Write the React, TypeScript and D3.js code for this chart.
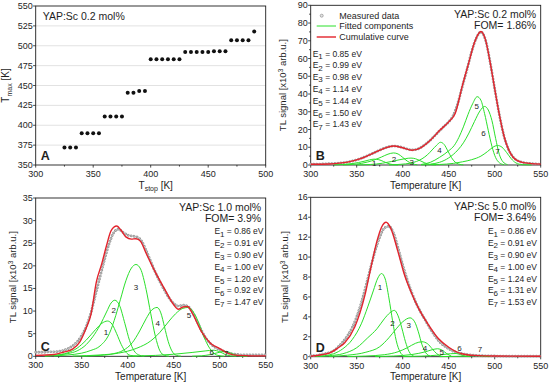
import React from 'react';
import * as d3 from 'd3';

const FONT = "'Liberation Sans', Arial, Helvetica, sans-serif";
const GREEN = '#2ae02a';
const RED = '#e3232c';
const INK = '#1e1e1e';

// panel A: Tmax vs Tstop
const aTstop = [325, 330, 335, 340, 345, 350, 355, 360, 365, 370, 375, 380, 385, 390, 395,
  400, 405, 410, 415, 420, 425, 430, 435, 440, 445, 450, 455, 460, 465, 470, 475, 480, 485, 490];
const aTmax = [372, 372, 372, 390, 390, 390, 390, 411, 411, 411, 411, 441, 441, 443, 443,
  483, 483, 483, 483, 483, 483, 492, 492, 492, 492, 492, 493, 493, 493, 507, 507, 507, 507, 518];

// measured glow curves, every 5 K
const measuredT = [300, 305, 310, 315, 320, 325, 330, 335, 340, 345, 350, 355, 360, 365, 370, 375, 380,
  385, 390, 395, 400, 405, 410, 415, 420, 425, 430, 435, 440, 445, 450, 455, 460, 465, 470, 475, 480,
  485, 490, 495, 500, 505, 510, 515, 520, 525, 530, 535, 540, 545, 550];
const bMeasured = [0.5, 0.5, 0.5, 0.6, 0.7, 0.8, 1.0, 1.3, 1.7, 2.2, 2.9, 3.8, 4.9, 6.0, 7.2, 8.4, 9.5,
  10.3, 10.7, 10.5, 9.8, 9.0, 8.5, 8.8, 10.0, 11.8, 14.0, 16.6, 19.3, 21.8, 24.3, 28.0, 35.0, 44.5, 54.0,
  64.0, 71.5, 75.0, 70.5, 58.0, 43.0, 28.5, 16.5, 8.8, 4.5, 2.4, 1.5, 1.0, 0.8, 0.6, 0.5];
const cMeasured = [0.9, 0.9, 0.9, 1.0, 1.0, 1.1, 1.3, 1.7, 2.3, 3.2, 4.6, 6.6, 9.6, 13.6, 17.6, 21.5, 25.0,
  27.4, 28.1, 27.4, 26.8, 26.6, 26.4, 25.5, 23.4, 21.0, 18.6, 16.5, 14.6, 12.9, 11.7, 11.1, 11.3, 11.1, 9.9,
  7.9, 5.8, 4.0, 2.8, 2.0, 1.5, 1.1, 0.7, 0.5, 0.4, 0.3, 0.3, 0.3, 0.3, 0.3, 0.3];
const dMeasured = [0.1, 0.1, 0.2, 0.3, 0.4, 0.6, 1.0, 1.5, 2.1, 2.9, 4.0, 5.4, 7.1, 8.9, 10.6, 12.0, 12.9,
  13.1, 12.4, 10.9, 9.2, 7.7, 6.4, 5.3, 4.4, 3.6, 2.8, 2.1, 1.5, 1.1, 0.8, 0.55, 0.4, 0.3, 0.22, 0.17, 0.13,
  0.1, 0.09, 0.08, 0.07, 0.06, 0.06, 0.05, 0.05, 0.05, 0.05, 0.05, 0.05, 0.05, 0.05];

// cumulative curves [T, signal]
const bCumulative = [[300, 0.4], [320, 0.6], [340, 1.6], [355, 3.7], [370, 7.1], [380, 9.4], [390, 10.7],
  [400, 9.7], [410, 8.3], [420, 9.8], [430, 13.9], [440, 19.4], [450, 24.3], [457, 29], [465, 45], [472, 58],
  [478, 69], [485, 75.2], [490, 70.5], [495, 58], [500, 43], [505, 28.5], [510, 16.5], [515, 8.8], [520, 4.4],
  [530, 1.5], [540, 0.8], [550, 0.5]];
const cCumulative = [[300, 0.2], [320, 0.4], [330, 0.9], [340, 1.6], [348, 3.2], [355, 6.3], [360, 9.2],
  [366, 16.5], [372, 20.6], [377, 24.5], [382, 27.8], [388, 28.8], [393, 27.8], [398, 26.4], [404, 25.9],
  [409, 26.0], [414, 25.4], [420, 22.8], [430, 18.6], [440, 14.9], [450, 11.4], [455, 10.4], [460, 10.9],
  [465, 11.0], [470, 9.6], [480, 5.5], [490, 2.9], [500, 1.7], [510, 0.6], [520, 0.2], [535, 0.1], [550, 0.1]];
const dCumulative = [[300, 0.05], [312, 0.2], [320, 0.35], [330, 0.9], [337, 1.4], [348, 3.0], [359, 6.2],
  [366, 9.2], [372, 11.6], [377, 13.0], [382, 13.5], [387, 12.9], [395, 10.5], [402, 8.2], [410, 6.3],
  [417, 4.9], [428, 3.2], [439, 1.8], [450, 0.95], [464, 0.3], [478, 0.13], [500, 0.07], [550, 0.05]];

// fitted components
const bComponents = [
  [[325, 0.05], [335, 0.3], [345, 0.8], [352, 1.4], [358, 2.1], [364, 2.9], [369, 3.3], [374, 3.0], [379, 2.0], [384, 0.9], [389, 0.25], [395, 0.02]],
  [[335, 0.05], [345, 0.3], [355, 0.9], [362, 1.7], [370, 3.0], [377, 4.5], [384, 6.1], [390, 6.8], [395, 6.2], [400, 4.3], [405, 2.2], [410, 0.8], [416, 0.1]],
  [[350, 0.05], [365, 0.3], [378, 1.0], [388, 2.0], [396, 2.9], [403, 3.6], [409, 3.9], [414, 3.5], [419, 2.4], [424, 1.2], [430, 0.3], [436, 0.03]],
  [[385, 0.05], [398, 0.4], [408, 1.0], [415, 2.0], [421, 3.5], [427, 5.8], [432, 8.5], [437, 11.2], [441, 12.8], [445, 11.6], [449, 8.0], [453, 4.2], [457, 1.6], [461, 0.5], [466, 0.05]],
  [[420, 0.3], [430, 1.5], [440, 4.3], [450, 8.0], [456, 11], [461, 15.5], [466, 21.5], [471, 28.5], [476, 34.5], [481, 38.5], [485, 36.5], [489, 29], [493, 19.5], [497, 10.5], [501, 4.2], [505, 1.3], [510, 0.2]],
  [[430, 0.5], [440, 1.5], [450, 4.0], [460, 8.5], [466, 12.5], [472, 18], [478, 24.5], [484, 30.5], [489, 33], [493, 31], [497, 25], [501, 15], [505, 6], [509, 1.8], [514, 0.2]],
  [[420, 0.1], [440, 0.3], [455, 0.9], [465, 1.8], [475, 3], [485, 5], [492, 7.5], [498, 10], [503, 11], [508, 10], [513, 7], [518, 3.5], [523, 1.2], [530, 0.2], [540, 0.02]],
];
const cComponents = [
  [[310, 0.05], [320, 0.2], [335, 0.8], [345, 1.8], [355, 3.6], [365, 5.9], [372, 7.3], [378, 7.8], [383, 7.1], [388, 5.0], [393, 2.6], [398, 0.9], [403, 0.2], [410, 0.02]],
  [[310, 0.05], [320, 0.2], [335, 0.6], [345, 1.2], [355, 2.6], [362, 4.3], [370, 6.9], [377, 9.8], [382, 11.8], [386, 12.4], [391, 11.3], [397, 7.2], [402, 3.5], [407, 1.2], [412, 0.3], [418, 0.02]],
  [[320, 0.05], [335, 0.3], [350, 0.7], [360, 1.3], [370, 2.3], [380, 5.0], [387, 9.0], [392, 12.5], [398, 16.7], [404, 19.5], [409, 20.3], [414, 19.3], [420, 14.8], [425, 9.5], [430, 4.5], [435, 1.2], [440, 0.2], [445, 0.02]],
  [[350, 0.05], [370, 0.2], [385, 0.6], [395, 1.3], [405, 3.0], [413, 5.6], [420, 8.3], [426, 10.2], [432, 10.8], [436, 9.6], [440, 6.5], [444, 3.3], [448, 1.2], [453, 0.2], [458, 0.02]],
  [[340, 0.05], [370, 0.3], [390, 0.7], [410, 1.8], [425, 3.4], [435, 5.3], [445, 7.8], [452, 9.4], [460, 10.6], [466, 10.8], [471, 9.9], [477, 7.5], [482, 4.7], [487, 2.5], [492, 1.0], [498, 0.2], [505, 0.02]],
  [[400, 0.05], [430, 0.2], [450, 0.45], [470, 0.85], [485, 1.2], [493, 1.35], [500, 1.0], [506, 0.4], [512, 0.1], [518, 0.01]],
  [[470, 0.02], [480, 0.1], [490, 0.4], [498, 0.8], [505, 1.1], [511, 0.8], [517, 0.3], [523, 0.05], [530, 0.0]],
];
const dComponents = [
  [[305, 0.02], [315, 0.1], [325, 0.3], [335, 0.8], [345, 1.7], [355, 3.3], [362, 5.0], [368, 6.6], [373, 7.9], [377, 8.35], [381, 7.8], [385, 5.9], [389, 3.6], [393, 1.6], [397, 0.5], [402, 0.05]],
  [[310, 0.03], [320, 0.1], [335, 0.3], [350, 0.9], [362, 1.9], [372, 2.8], [380, 3.8], [386, 4.4], [391, 4.65], [395, 4.1], [399, 2.9], [403, 1.5], [407, 0.5], [412, 0.05]],
  [[320, 0.03], [340, 0.15], [360, 0.45], [375, 1.0], [385, 1.9], [393, 2.8], [400, 3.5], [408, 3.9], [413, 3.5], [417, 2.5], [421, 1.2], [425, 0.4], [430, 0.05]],
  [[340, 0.02], [360, 0.07], [380, 0.2], [395, 0.5], [405, 0.9], [414, 1.35], [421, 1.5], [427, 1.3], [432, 0.8], [437, 0.3], [442, 0.05]],
  [[370, 0.02], [390, 0.07], [410, 0.22], [425, 0.5], [432, 0.7], [438, 0.8], [443, 0.65], [448, 0.3], [453, 0.05]],
  [[400, 0.02], [420, 0.06], [440, 0.17], [452, 0.3], [458, 0.32], [463, 0.2], [468, 0.05], [473, 0.01]],
  [[440, 0.01], [460, 0.04], [470, 0.07], [480, 0.1], [488, 0.06], [495, 0.01]],
];

// where the component numbers sit [T, signal]
const bLabels = [[369, 0.9], [390.6, 3.2], [409.8, 1.5], [440, 8.5], [480.4, 33], [487.7, 18], [503, 8]];
const cLabels = [[376.4, 5.4], [384.8, 10.3], [409, 15.3], [432.6, 7.4], [466.7, 9.1], [491.3, 1.0], [507, 0.6]];
const dLabels = [[375.4, 7.0], [389, 3.4], [406.5, 3.2], [424.3, 0.87], [442.4, 0.5], [461.6, 0.87], [484, 0.8]];

const bEnergies = ['0.85', '0.99', '0.98', '1.14', '1.44', '1.50', '1.43'];
const cEnergies = ['0.86', '0.91', '0.90', '1.00', '1.20', '0.92', '1.47'];
const dEnergies = ['0.86', '0.91', '0.90', '1.00', '1.24', '1.31', '1.53'];

const tempTicks = [300, 350, 400, 450, 500, 550];
const tempMinor = [325, 375, 425, 475, 525];

function Axes({ x, y, box, xTicks, yTicks, xMinor, yMinor, grid }: any) {
  return (
    <g fontFamily={FONT} fontSize={9} fill={INK}>
      {grid && yTicks.slice(1, -1).map((v: number) => (
        <line key={'g' + v} x1={box.l} x2={box.r} y1={y(v)} y2={y(v)} stroke="#dadada" strokeWidth={0.8} />
      ))}
      {xMinor.map((v: number) => (
        <line key={'xm' + v} x1={x(v)} x2={x(v)} y1={box.b} y2={box.b + 1.6} stroke={INK} strokeWidth={0.8} />
      ))}
      {yMinor.map((v: number) => (
        <line key={'ym' + v} x1={box.l - 1.6} x2={box.l} y1={y(v)} y2={y(v)} stroke={INK} strokeWidth={0.8} />
      ))}
      {xTicks.map((v: number) => (
        <g key={'x' + v}>
          <line x1={x(v)} x2={x(v)} y1={box.b} y2={box.b + 2.6} stroke={INK} strokeWidth={0.8} />
          <text x={x(v)} y={box.b + 12} textAnchor="middle">{v}</text>
        </g>
      ))}
      {yTicks.map((v: number) => (
        <g key={'y' + v}>
          <line x1={box.l - 2.6} x2={box.l} y1={y(v)} y2={y(v)} stroke={INK} strokeWidth={0.8} />
          <text x={box.l - 3} y={y(v) + 3} textAnchor="end">{v}</text>
        </g>
      ))}
      <rect x={box.l} y={box.t} width={box.r - box.l} height={box.b - box.t} fill="none" stroke={INK} strokeWidth={0.9} />
    </g>
  );
}

function Energy({ x, y, i, e, anchor }: any) {
  return (
    <text x={x} y={y} fontFamily={FONT} fontSize={8.5} fill={INK} textAnchor={anchor}>
      E<tspan dy={2.2} fontSize={8}>{i + 1}</tspan><tspan dy={-2.2}>{` = ${e} eV`}</tspan>
    </text>
  );
}

function TLPanel({ box, yMax, yTicks, yMinor, measured, cumulative, components, labels, energies,
  sample, fom, letter, energyX, energyY, energyAnchor, yLabelX, legend }: any) {
  const x = d3.scaleLinear().domain([300, 550]).range([box.l, box.r]);
  const y = d3.scaleLinear().domain([0, yMax]).range([box.b, box.t]);
  const line = d3.line<any>().x(d => x(d[0])).y(d => y(d[1])).curve(d3.curveMonotoneX);
  const meas = measuredT.map((t, i) => [t, measured[i]]);
  const cx = (box.l + box.r) / 2;
  const cy = (box.t + box.b) / 2;
  return (
    <g>
      <Axes x={x} y={y} box={box} xTicks={tempTicks} yTicks={yTicks} xMinor={tempMinor} yMinor={yMinor} />
      <path d={line(meas) || ''} fill="none" stroke="#999" strokeWidth={2.8} strokeDasharray="0.01 3" strokeLinecap="round" />
      <path d={line(meas) || ''} fill="none" stroke="#e4e4e4" strokeWidth={1.0} strokeDasharray="0.01 3" strokeLinecap="round" />
      {components.map((c: any, i: number) => (
        <path key={i} d={line(c) || ''} fill="none" stroke={GREEN} strokeWidth={1} />
      ))}
      <path d={line(cumulative) || ''} fill="none" stroke={RED} strokeWidth={1.4} />
      <g fontFamily={FONT} fontSize={8} fill={INK} textAnchor="middle">
        {labels.map((p: number[], i: number) => (
          <text key={i} x={x(p[0])} y={y(p[1]) + 2.9}>{i + 1}</text>
        ))}
      </g>
      {energies.map((e: string, i: number) => (
        <Energy key={i} x={energyX} y={energyY + i * 11.8 + 3} i={i} e={e} anchor={energyAnchor} />
      ))}
      <g fontFamily={FONT} fontSize={10.5} fill={INK} textAnchor="end">
        <text x={box.r - 4.5} y={box.t + 12.8}>{sample}</text>
        <text x={box.r - 4.5} y={box.t + 23.5}>{fom}</text>
      </g>
      {legend && (
        <g fontFamily={FONT} fontSize={9} fill={INK}>
          <circle cx={box.l + 11} cy={box.t + 10.4} r={1.5} fill="#e4e4e4" stroke="#999" strokeWidth={0.8} />
          <text x={box.l + 28.6} y={box.t + 13.6}>Measured data</text>
          <line x1={box.l + 6} x2={box.l + 25.3} y1={box.t + 20.7} y2={box.t + 20.7} stroke={GREEN} strokeWidth={1} />
          <text x={box.l + 28.6} y={box.t + 24}>Fitted components</text>
          <line x1={box.l + 6} x2={box.l + 25.3} y1={box.t + 31.7} y2={box.t + 31.7} stroke={RED} strokeWidth={1.4} />
          <text x={box.l + 28.6} y={box.t + 35}>Cumulative curve</text>
        </g>
      )}
      <text x={box.l + 5} y={box.b - 5} fontFamily={FONT} fontSize={12.5} fontWeight="bold" fill={INK}>{letter}</text>
      <text x={cx} y={box.b + 23.5} fontFamily={FONT} fontSize={10} fill={INK} textAnchor="middle">Temperature [K]</text>
      <text transform={`translate(${yLabelX},${cy}) rotate(-90)`} fontFamily={FONT} fontSize={9.5} fill={INK} textAnchor="middle">
        TL signal [x10<tspan dy={-3.2} fontSize={6.5}>3</tspan><tspan dy={3.2}> arb.u.]</tspan>
      </text>
    </g>
  );
}

function PanelA() {
  const box = { l: 35.7, r: 265.7, t: 6, b: 165 };
  const x = d3.scaleLinear().domain([300, 500]).range([box.l, box.r]);
  const y = d3.scaleLinear().domain([350, 550]).range([box.b, box.t]);
  const yTicks = d3.range(350, 551, 25);
  return (
    <g>
      <Axes x={x} y={y} box={box} xTicks={[300, 350, 400, 450, 500]} yTicks={yTicks}
        xMinor={[325, 375, 425, 475]} yMinor={[]} grid />
      {aTstop.map((t, i) => (
        <circle key={i} cx={x(t)} cy={y(aTmax[i])} r={2} fill="#111" />
      ))}
      <text x={42.7} y={20.4} fontFamily={FONT} fontSize={10.5} fill={INK}>YAP:Sc 0.2 mol%</text>
      <text x={box.l + 5} y={box.b - 5} fontFamily={FONT} fontSize={12.5} fontWeight="bold" fill={INK}>A</text>
      <text x={155.7} y={188.5} fontFamily={FONT} fontSize={10} fill={INK} textAnchor="middle">
        T<tspan dy={2.5} fontSize={7}>stop</tspan><tspan dy={-2.5}> [K]</tspan>
      </text>
      <text transform={`translate(9,${(box.t + box.b) / 2}) rotate(-90)`} fontFamily={FONT} fontSize={10} fill={INK} textAnchor="middle">
        T<tspan dy={2.5} fontSize={7}>max</tspan><tspan dy={-2.5}> [K]</tspan>
      </text>
    </g>
  );
}

export default function App() {
  return (
    <div>
      <style>{'body{margin:0}'}</style>
      <svg width={550} height={384} style={{ display: 'block', background: '#fff' }}>
        <PanelA />
        <TLPanel box={{ l: 310.7, r: 540.7, t: 5.3, b: 165 }} yMax={90} yTicks={d3.range(0, 91, 10)}
          yMinor={d3.range(5, 90, 10)} measured={bMeasured} cumulative={bCumulative} components={bComponents}
          labels={bLabels} energies={bEnergies} sample="YAP:Sc 0.2 mol%" fom="FOM= 1.86%" letter="B"
          energyX={312.7} energyY={53.5} energyAnchor="start" yLabelX={286} legend />
        <TLPanel box={{ l: 35.7, r: 265.7, t: 198, b: 356.3 }} yMax={35} yTicks={d3.range(0, 36, 5)}
          yMinor={[]} measured={cMeasured} cumulative={cCumulative} components={cComponents}
          labels={cLabels} energies={cEnergies} sample="YAP:Sc 1.0 mol%" fom="FOM= 3.9%" letter="C"
          energyX={263.5} energyY={231.3} energyAnchor="end" yLabelX={16} />
        <TLPanel box={{ l: 310.7, r: 540.7, t: 197.3, b: 356.7 }} yMax={16} yTicks={d3.range(0, 17, 2)}
          yMinor={[]} measured={dMeasured} cumulative={dCumulative} components={dComponents}
          labels={dLabels} energies={dEnergies} sample="YAP:Sc 5.0 mol%" fom="FOM= 3.64%" letter="D"
          energyX={537} energyY={231.3} energyAnchor="end" yLabelX={288} />
      </svg>
    </div>
  );
}
